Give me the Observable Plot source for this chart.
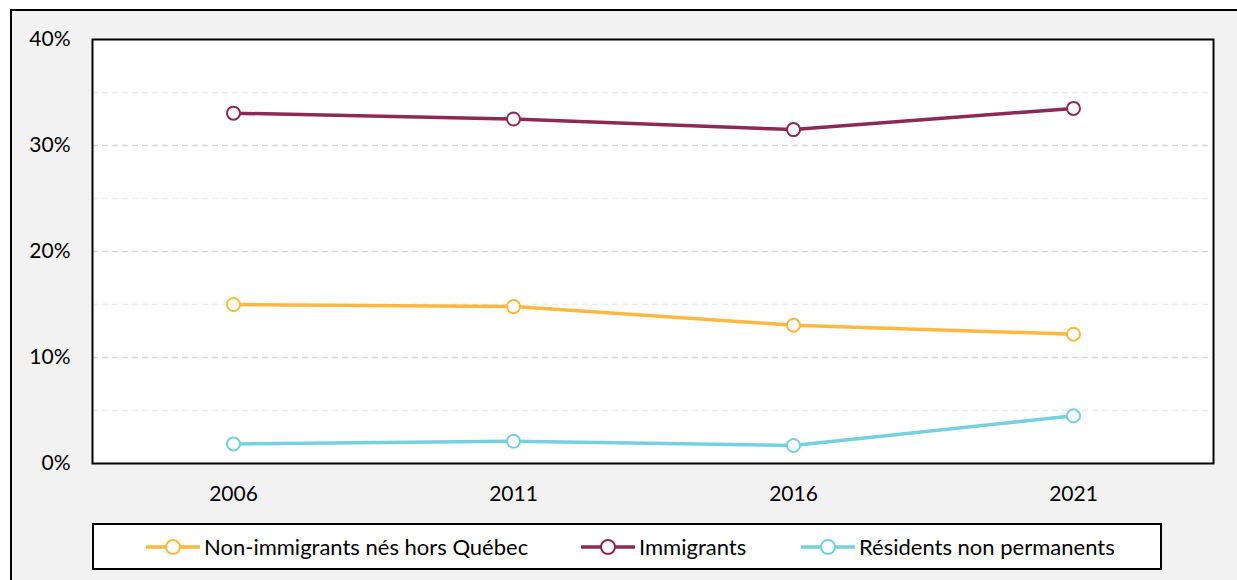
<!DOCTYPE html>
<html>
<head>
<meta charset="utf-8">
<script src="https://cdn.jsdelivr.net/npm/d3@7"></script>
<script src="https://cdn.jsdelivr.net/npm/@observablehq/plot@0.6"></script>
<style>
  html, body { margin: 0; padding: 0; background: #ffffff; overflow: hidden; width: 1237px; height: 580px; }
  #outer { position: absolute; left: 10px; top: 9px; width: 1260px; height: 620px; border: 2px solid #000; background: #f2f2f2; }
  #chart { position: absolute; left: 0; top: 0; }
  #legend { position: absolute; left: 92px; top: 523px; width: 1066px; height: 43px; border: 2px solid #000; background: #fff; font-family: Lato, "Open Sans", sans-serif; font-size: 22px; color: #000; }
  .item { position: absolute; top: 0; height: 43px; display: flex; align-items: center; white-space: nowrap; }
  .item svg { margin-right: 3px; }
</style>
</head>
<body>
<div id="outer"></div>
<div id="chart"></div>
<div id="legend"></div>
<script>
const years = ["2006", "2011", "2016", "2021"];
const seriesNames = ["Non-immigrants nés hors Québec", "Immigrants", "Résidents non permanents"];
const nonImmigrants = [15.0, 14.8, 13.05, 12.2];
const immigrants = [33.05, 32.5, 31.5, 33.5];
const residentsNP = [1.85, 2.1, 1.7, 4.5];
const seriesColors = ["#ffb83f", "#8c2a56", "#74d1dd"];
const yTicks = [0, 10, 20, 30, 40];
const majorGrid = [10, 20, 30];
const minorGrid = [5, 15, 25, 35];

const seriesValues = [nonImmigrants, immigrants, residentsNP];
const data = [];
seriesNames.forEach((s, i) => years.forEach((yr, j) => data.push({series: s, year: yr, value: seriesValues[i][j]})));

const plot = Plot.plot({
  width: 1237,
  height: 515,
  marginLeft: 92,
  marginRight: 24,
  marginTop: 39,
  marginBottom: 52,
  style: {background: "transparent", fontFamily: "Lato, 'Open Sans', sans-serif", fontSize: "21px", color: "#000"},
  x: {type: "point", domain: years, padding: 0.5, tickSize: 0, tickPadding: 23, label: null},
  y: {domain: [0, 40], ticks: yTicks, tickFormat: d => d + "%", tickSize: 0, tickPadding: 22, label: null},
  color: {domain: seriesNames, range: seriesColors},
  marks: [
    Plot.frame({fill: "white", stroke: "none"}),
    Plot.ruleY(minorGrid, {stroke: "#ececec", strokeWidth: 1.3, strokeDasharray: "6,4"}),
    Plot.ruleY(majorGrid, {stroke: "#d6d6d6", strokeWidth: 1.3, strokeDasharray: "6,4"}),
    Plot.line(data, {x: "year", y: "value", z: "series", stroke: "series", strokeWidth: 3.5}),
    Plot.dot(data, {x: "year", y: "value", stroke: "series", fill: "white", r: 6.5, strokeWidth: 2}),
    Plot.frame({stroke: "#000", strokeWidth: 2})
  ]
});
document.getElementById("chart").appendChild(plot);

// legend
const legend = document.getElementById("legend");
const legendLefts = [51, 486, 706];
seriesNames.forEach((s, i) => {
  const item = document.createElement("div");
  item.className = "item";
  item.style.left = legendLefts[i] + "px";
  item.innerHTML = `<svg width="56" height="20"><line x1="1" x2="55" y1="10" y2="10" stroke="${seriesColors[i]}" stroke-width="3.5"/><circle cx="28" cy="10" r="7" fill="white" stroke="${seriesColors[i]}" stroke-width="2"/></svg><span>${s}</span>`;
  legend.appendChild(item);
});
</script>
</body>
</html>
